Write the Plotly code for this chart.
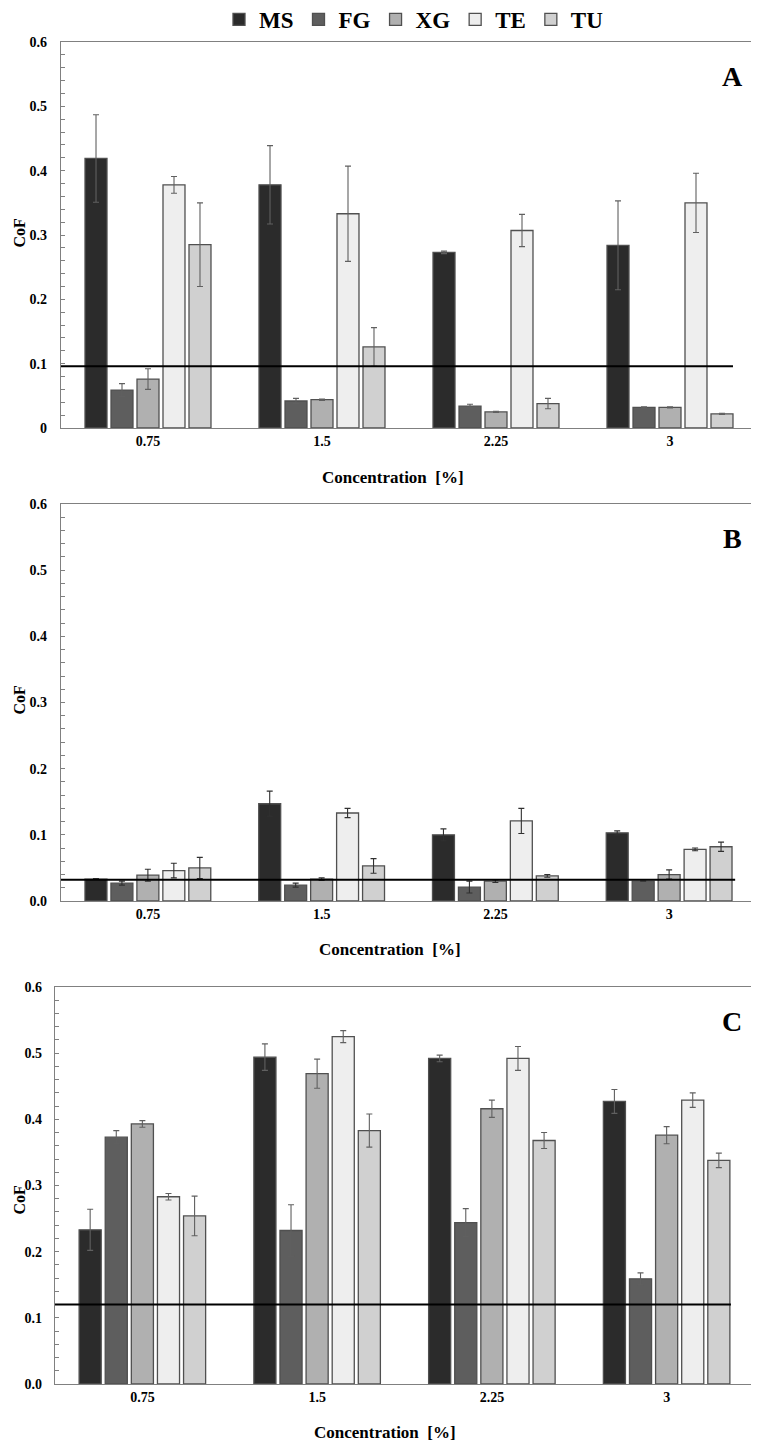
import plotly.graph_objects as go

categories = ["0.75", "1.5", "2.25", "3"]
series_names = ["MS", "FG", "XG", "TE", "TU"]
series_colors = ["#2b2b2b", "#5e5e5e", "#b0b0b0", "#eeeeee", "#d0d0d0"]

# Panel A
a_ms = [0.419, 0.378, 0.273, 0.284]
a_ms_err = [0.068, 0.061, 0.002, 0.069]
a_fg = [0.059, 0.042, 0.034, 0.032]
a_fg_err = [0.010, 0.004, 0.003, 0.001]
a_xg = [0.076, 0.044, 0.025, 0.032]
a_xg_err = [0.016, 0.001, 0.001, 0.001]
a_te = [0.378, 0.333, 0.307, 0.350]
a_te_err = [0.013, 0.074, 0.025, 0.046]
a_tu = [0.285, 0.126, 0.038, 0.022]
a_tu_err = [0.065, 0.030, 0.008, 0.001]

# Panel B
b_ms = [0.033, 0.147, 0.100, 0.103]
b_ms_err = [0.001, 0.019, 0.009, 0.003]
b_fg = [0.027, 0.024, 0.021, 0.030]
b_fg_err = [0.003, 0.003, 0.009, 0.0]
b_xg = [0.039, 0.033, 0.030, 0.040]
b_xg_err = [0.009, 0.002, 0.002, 0.007]
b_te = [0.046, 0.133, 0.121, 0.078]
b_te_err = [0.011, 0.007, 0.019, 0.002]
b_tu = [0.050, 0.053, 0.038, 0.082]
b_tu_err = [0.016, 0.011, 0.002, 0.007]

# Panel C
c_ms = [0.233, 0.494, 0.492, 0.427]
c_ms_err = [0.031, 0.020, 0.005, 0.018]
c_fg = [0.373, 0.232, 0.244, 0.159]
c_fg_err = [0.010, 0.039, 0.021, 0.009]
c_xg = [0.393, 0.469, 0.416, 0.376]
c_xg_err = [0.005, 0.022, 0.013, 0.013]
c_te = [0.283, 0.525, 0.492, 0.429]
c_te_err = [0.005, 0.009, 0.018, 0.011]
c_tu = [0.254, 0.383, 0.368, 0.338]
c_tu_err = [0.030, 0.025, 0.012, 0.011]

reference_lines = [0.096, 0.032, 0.120]
panel_letters = ["A", "B", "C"]
x_title = "Concentration  [%]"
y_title = "CoF"

panels = [
    ([a_ms, a_fg, a_xg, a_te, a_tu], [a_ms_err, a_fg_err, a_xg_err, a_te_err, a_tu_err]),
    ([b_ms, b_fg, b_xg, b_te, b_tu], [b_ms_err, b_fg_err, b_xg_err, b_te_err, b_tu_err]),
    ([c_ms, c_fg, c_xg, c_te, c_tu], [c_ms_err, c_fg_err, c_xg_err, c_te_err, c_tu_err]),
]

# the page body has an 8px margin, so the figure is drawn 8px right and down
OFF = 8
W, H = 759 - OFF, 1443 - OFF


def px(v):
    return v - OFF


# screen-pixel boxes (left, right, top, bottom)
boxes = [(61, 757, 42, 428), (61, 756, 504, 901), (55, 754, 987, 1384)]
line_ends = [0.9655, 0.970, 0.967]
err_colors = ["#606060", "#303030", "#606060"]
xtitle_pos = [(393, 477), (390, 949), (385, 1432)]
ytitle_y = [233, 700, 1200]

FONT = "Liberation Serif"

fig = go.Figure()
layout_axes = {}
annotations = []
shapes = []

for i, (vals, errs) in enumerate(panels):
    n = "" if i == 0 else str(i + 1)
    xa, ya = "x" + n, "y" + n
    for k, name in enumerate(series_names):
        fig.add_trace(go.Bar(
            x=categories, y=vals[k], name="<b>" + name + "</b>",
            marker=dict(color=series_colors[k], line=dict(color="#505050", width=1.3)),
            error_y=dict(type="data", array=errs[k], visible=True,
                         color=err_colors[i], thickness=1.1, width=3),
            xaxis=xa, yaxis=ya, offsetgroup=name, legendgroup=name,
            showlegend=(i == 0),
        ))
    l, r, t, b = boxes[i]
    xd = [px(l) / W, px(r) / W]
    yd = [1 - px(b) / H, 1 - px(t) / H]
    layout_axes["xaxis" + n] = dict(
        domain=xd, anchor=ya, type="category",
        showline=True, linecolor="#808080", linewidth=1.3, mirror=True,
        ticks="", showgrid=False,
        tickfont=dict(family=FONT, size=14, color="#000", weight="bold"),
    )
    layout_axes["yaxis" + n] = dict(
        domain=yd, anchor=xa, range=[0, 0.6], dtick=0.1,
        tickformat=("" if i == 0 else ".1f"),
        showline=True, linecolor="#808080", linewidth=1.3, mirror=True,
        ticks="inside", ticklen=4, tickcolor="#808080",
        minor=dict(dtick=0.02, ticks="inside", ticklen=4, tickcolor="#808080"),
        showgrid=False, zeroline=False,
        tickfont=dict(family=FONT, size=14, color="#000", weight="bold"),
        ticklabelstandoff=(10 if i < 2 else 9),
    )
    shapes.append(dict(type="line", xref=xa + " domain", yref=ya,
                       x0=0, x1=line_ends[i], y0=reference_lines[i], y1=reference_lines[i],
                       line=dict(color="#000", width=2)))
    annotations.append(dict(text="<b>" + panel_letters[i] + "</b>", xref="paper", yref="paper",
                            x=px(732) / W, y=1 - px(t + 34) / H, xanchor="center", yanchor="middle",
                            showarrow=False, font=dict(family=FONT, size=28, color="#000")))
    tx, ty = xtitle_pos[i]
    annotations.append(dict(text="<b>" + x_title + "</b>", xref="paper", yref="paper",
                            x=px(tx) / W, y=1 - px(ty) / H, xanchor="center", yanchor="middle",
                            showarrow=False, font=dict(family=FONT, size=17, color="#000")))
    annotations.append(dict(text="<b>" + y_title + "</b>", xref="paper", yref="paper",
                            x=0, y=1 - px(ytitle_y[i]) / H, xanchor="left", yanchor="middle",
                            textangle=-90, showarrow=False,
                            font=dict(family=FONT, size=16, color="#000")))

fig.update_layout(
    width=W, height=H,
    margin=dict(l=0, r=0, t=0, b=0, autoexpand=False),
    paper_bgcolor="white", plot_bgcolor="white",
    barmode="group", bargap=0.253, bargroupgap=0.154,
    legend=dict(orientation="h", x=px(414) / W, xanchor="center", y=1 + 10 / H, yanchor="top",
                font=dict(family=FONT, size=23, color="#000"),
                itemwidth=30, tracegroupgap=0, bgcolor="rgba(0,0,0,0)"),
    shapes=shapes, annotations=annotations,
    **layout_axes,
)

fig.write_html("out.html")
